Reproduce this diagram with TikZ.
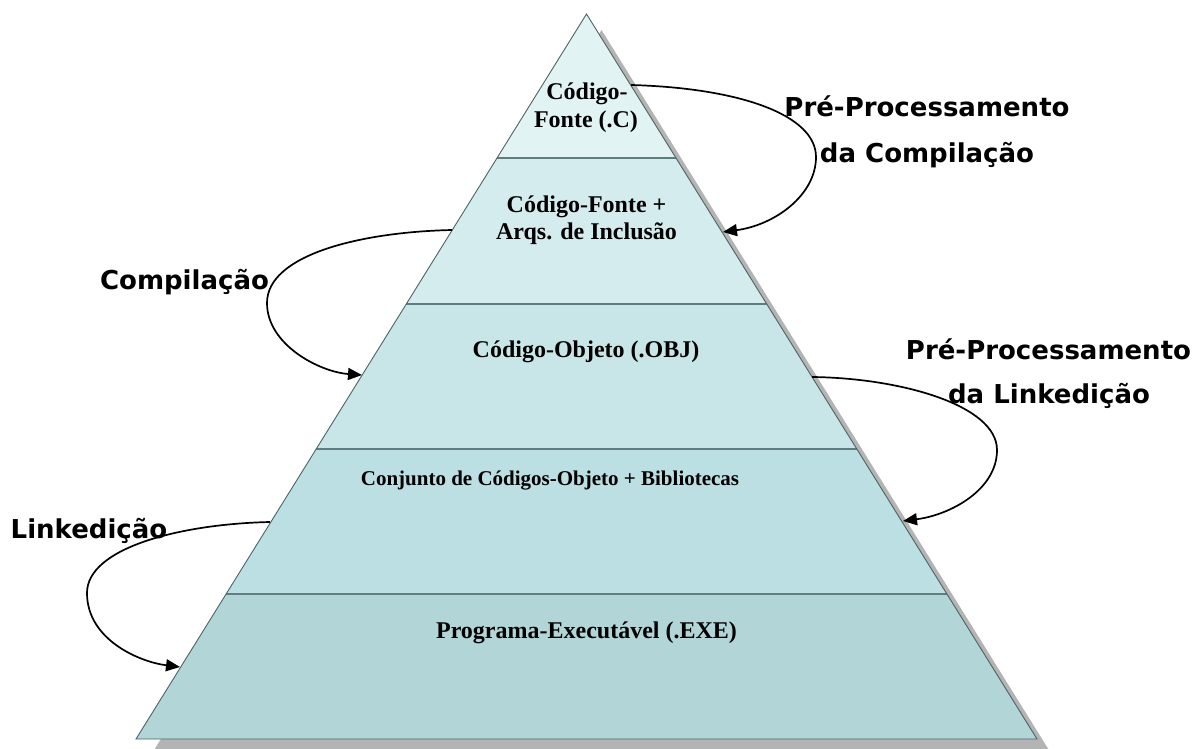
\documentclass[tikz,border=0pt]{standalone}
\usepackage{fontspec}
\setmainfont{Liberation Serif}
\newfontfamily\lblfont{DejaVu Sans}
\usetikzlibrary{arrows.meta}
\definecolor{lvA}{HTML}{E2F3F3}
\definecolor{lvB}{HTML}{D5ECEE}
\definecolor{lvC}{HTML}{C8E6E8}
\definecolor{lvD}{HTML}{BBDFE2}
\definecolor{lvE}{HTML}{B2D5D7}
\definecolor{sepcol}{HTML}{5F7D7E}
\definecolor{outcol}{HTML}{4D6364}
\definecolor{shadcol}{HTML}{B4B4B4}
\tikzset{
  sepline/.style={draw=sepcol, line width=2pt},
  outline/.style={draw=outcol, line width=0.9pt, line join=miter},
  arr/.style={draw=black, line width=1.7pt, -{Triangle[length=14pt,width=12pt]}},
  lvltext/.style={font=\bfseries\fontsize{24}{28}\selectfont, anchor=base, inner sep=0pt},
  lvlsmall/.style={font=\bfseries\fontsize{21}{25}\selectfont, anchor=base, inner sep=0pt},
  arrlabel/.style={font=\lblfont\bfseries\fontsize{26}{30}\selectfont, anchor=base, inner sep=0pt},
}
\begin{document}
\begin{tikzpicture}[x=1pt,y=-1pt]
\useasboundingbox (0,0) rectangle (1204,749);
\clip (0,0) rectangle (1204,749);
% pyramid corners and level boundaries
\coordinate (apex) at (586.5,14);
\coordinate (l1) at (497.0,158); \coordinate (r1) at (676.0,158);
\coordinate (l2) at (406.3,304); \coordinate (r2) at (766.7,304);
\coordinate (l3) at (316.2,449); \coordinate (r3) at (856.8,449);
\coordinate (l4) at (226.1,594); \coordinate (r4) at (946.9,594);
\coordinate (bl) at (136.0,739); \coordinate (br) at (1037.0,739);
% shadow
\fill[shadcol] ([shift={(15,16)}]apex) -- ([shift={(15,16)}]br) -- ([shift={(15,16)}]bl) -- cycle;
% levels
\fill[lvA] (apex) -- (r1) -- (l1) -- cycle;
\fill[lvB] (l1) -- (r1) -- (r2) -- (l2) -- cycle;
\fill[lvC] (l2) -- (r2) -- (r3) -- (l3) -- cycle;
\fill[lvD] (l3) -- (r3) -- (r4) -- (l4) -- cycle;
\fill[lvE] (l4) -- (r4) -- (br) -- (bl) -- cycle;
\draw[sepline] (l1) -- (r1);
\draw[sepline] (l2) -- (r2);
\draw[sepline] (l3) -- (r3);
\draw[sepline] (l4) -- (r4);
\draw[outline] (apex) -- (br) -- (bl) -- cycle;
% level texts
\node[lvltext] (t1a) at (587,100) {Código-};
\node[lvltext] (t1b) at (586,128) {Fonte (.C)};
\node[lvltext] (t2a) at (586.5,212) {Código-Fonte +};
\node[lvltext] (t2b) at (586.5,239) {Arqs. de Inclusão};
\node[lvltext] (t3) at (586,357) {Código-Objeto (.OBJ)};
\node[lvlsmall] (t4) at (550,485) {Conjunto de Códigos-Objeto + Bibliotecas};
\node[lvltext] (t5) at (586.5,638) {Programa-Executável (.EXE)};
% connector ends
\coordinate (a1s) at (631,85);  \coordinate (a1m) at (816,157); \coordinate (a1e) at (723,232);
\coordinate (a2s) at (452,230); \coordinate (a2m) at (267,303); \coordinate (a2e) at (362,375);
\coordinate (a3s) at (812,377); \coordinate (a3m) at (997,450); \coordinate (a3e) at (903,521);
\coordinate (a4s) at (270,522); \coordinate (a4m) at (87,593);  \coordinate (a4e) at (180,667);
\draw[arr] (a1s) .. controls (740,88) and (816,115) .. (a1m) .. controls (816,195) and (775,225) .. (a1e);
\draw[arr] (a2s) .. controls (360,232) and (267,255) .. (a2m) .. controls (267,345) and (320,372) .. (a2e);
\draw[arr] (a3s) .. controls (900,378) and (997,405) .. (a3m) .. controls (997,490) and (950,515) .. (a3e);
\draw[arr] (a4s) .. controls (180,524) and (87,548) .. (a4m) .. controls (87,640) and (140,662) .. (a4e);
% connector labels
\node[arrlabel] (p1a) at (927,117) {Pré-Processamento};
\node[arrlabel] (p1b) at (927,162) {da Compilação};
\node[arrlabel] (p2) at (184.5,289) {Compilação};
\node[arrlabel] (p3a) at (1048.5,359) {Pré-Processamento};
\node[arrlabel] (p3b) at (1049,403) {da Linkedição};
\node[arrlabel] (p4) at (89,538) {Linkedição};
\end{tikzpicture}
\end{document}
